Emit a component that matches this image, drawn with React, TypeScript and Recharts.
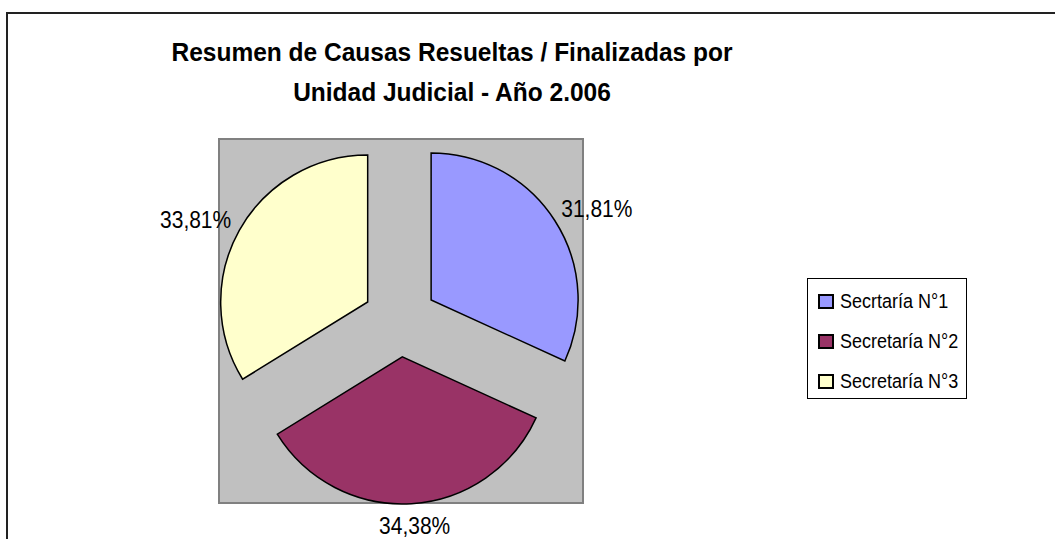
import React from 'react';
import { PieChart, Pie, Cell, Legend } from 'recharts';

const CATEGORIES = ['Secrtaría N°1', 'Secretaría N°2', 'Secretaría N°3'];
const PERCENTS = [31.81, 34.38, 33.81];
const COLORS = ['#9999FF', '#993366', '#FFFFCC'];

const W = 1055;
const H = 539;
const RADIUS = 147;
const EXPLODE = 37;
const RADIAN = Math.PI / 180;
const FONT = "'Liberation Sans', Arial, sans-serif";

const data = CATEGORIES.map((name, i) => ({ name, value: PERCENTS[i] }));

// offset of each exploded slice along its bisector
const total = PERCENTS.reduce((a, b) => a + b, 0);
let acc = 0;
const offsets = PERCENTS.map((v) => {
    const mid = 90 - (360 * (acc + v / 2)) / total;
    acc += v;
    return {
        dx: EXPLODE * Math.cos(mid * RADIAN),
        dy: -EXPLODE * Math.sin(mid * RADIAN),
    };
});

const fmt = (v: number) => v.toFixed(2).replace('.', ',') + '%';

const renderLabel = ({ cx, cy, midAngle, outerRadius, value }: any) => {
    const cos = Math.cos(-midAngle * RADIAN);
    const sin = Math.sin(-midAngle * RADIAN);
    const r = outerRadius + EXPLODE + 10;
    const x = cx + r * cos + 40 * cos;
    const y = cy + r * sin + 12 * sin;
    return (
        <text
            x={0}
            y={0}
            transform={`translate(${x}, ${y}) scale(1, 1.15)`}
            textAnchor="middle"
            dominantBaseline="central"
            fill="#000"
            fontSize={21}
            fontFamily={FONT}
        >
            {fmt(value)}
        </text>
    );
};

const renderLegend = ({ payload }: any) => {
    // keep the data order, take colours from the legend payload
    const items = CATEGORIES.map((c, i) => {
        const p = (payload || []).find((e: any) => e.value === c);
        return { label: c, color: p ? p.color : COLORS[i] };
    });
    return (
        <div
            style={{
                width: 160,
                height: 121,
                boxSizing: 'border-box',
                border: '1px solid #000',
                background: '#fff',
                padding: '2px 0 0 10px',
                fontFamily: FONT,
                fontSize: 18,
                color: '#000',
            }}
        >
            {items.map((it) => (
                <div
                    key={it.label}
                    style={{ display: 'flex', alignItems: 'center', height: 40 }}
                >
                    <span
                        style={{
                            display: 'inline-block',
                            width: 16,
                            height: 15,
                            boxSizing: 'border-box',
                            border: '2px solid #000',
                            background: it.color,
                            marginRight: 6,
                        }}
                    />
                    <span
                        style={{
                            whiteSpace: 'nowrap',
                            display: 'inline-block',
                            transform: 'scale(1, 1.15)',
                        }}
                    >
                        {it.label}
                    </span>
                </div>
            ))}
        </div>
    );
};

export default function App() {
    return (
        <div
            style={{
                position: 'fixed',
                left: 0,
                top: 0,
                width: W,
                height: H,
                overflow: 'hidden',
                background: '#fff',
            }}
        >
            {/* chart frame, cut off at right and bottom */}
            <div
                style={{
                    position: 'absolute',
                    left: 6,
                    top: 12,
                    width: 1200,
                    height: 700,
                    border: '2px solid #222',
                }}
            />
            <div
                style={{
                    position: 'absolute',
                    left: 0,
                    top: 34,
                    width: 904,
                    textAlign: 'center',
                    fontFamily: FONT,
                    fontWeight: 'bold',
                    fontSize: 24.5,
                    lineHeight: '38px',
                    color: '#000',
                    transform: 'scale(1, 1.05)',
                    transformOrigin: '0 28px',
                }}
            >
                Resumen de Causas Resueltas / Finalizadas por
                <br />
                Unidad Judicial - Año 2.006
            </div>
            {/* plot area */}
            <div
                style={{
                    position: 'absolute',
                    left: 218,
                    top: 138,
                    width: 366,
                    height: 366,
                    boxSizing: 'border-box',
                    background: '#C0C0C0',
                    border: '2px solid #808080',
                }}
            />
            <div style={{ position: 'absolute', left: 0, top: 0 }}>
                <PieChart width={W} height={H} margin={{ top: 0, right: 0, bottom: 0, left: 0 }}>
                    <Pie
                        data={data}
                        dataKey="value"
                        nameKey="name"
                        cx={400}
                        cy={320}
                        outerRadius={RADIUS}
                        startAngle={90}
                        endAngle={-270}
                        stroke="#000"
                        strokeWidth={1.5}
                        label={renderLabel}
                        labelLine={false}
                        isAnimationActive={false}
                    >
                        {data.map((d, i) => (
                            <Cell
                                key={d.name}
                                fill={COLORS[i]}
                                transform={`translate(${offsets[i].dx}, ${offsets[i].dy})`}
                            />
                        ))}
                    </Pie>
                    <Legend
                        content={renderLegend}
                        wrapperStyle={{ position: 'absolute', left: 807, top: 278, width: 160, height: 121 }}
                    />
                </PieChart>
            </div>
        </div>
    );
}
